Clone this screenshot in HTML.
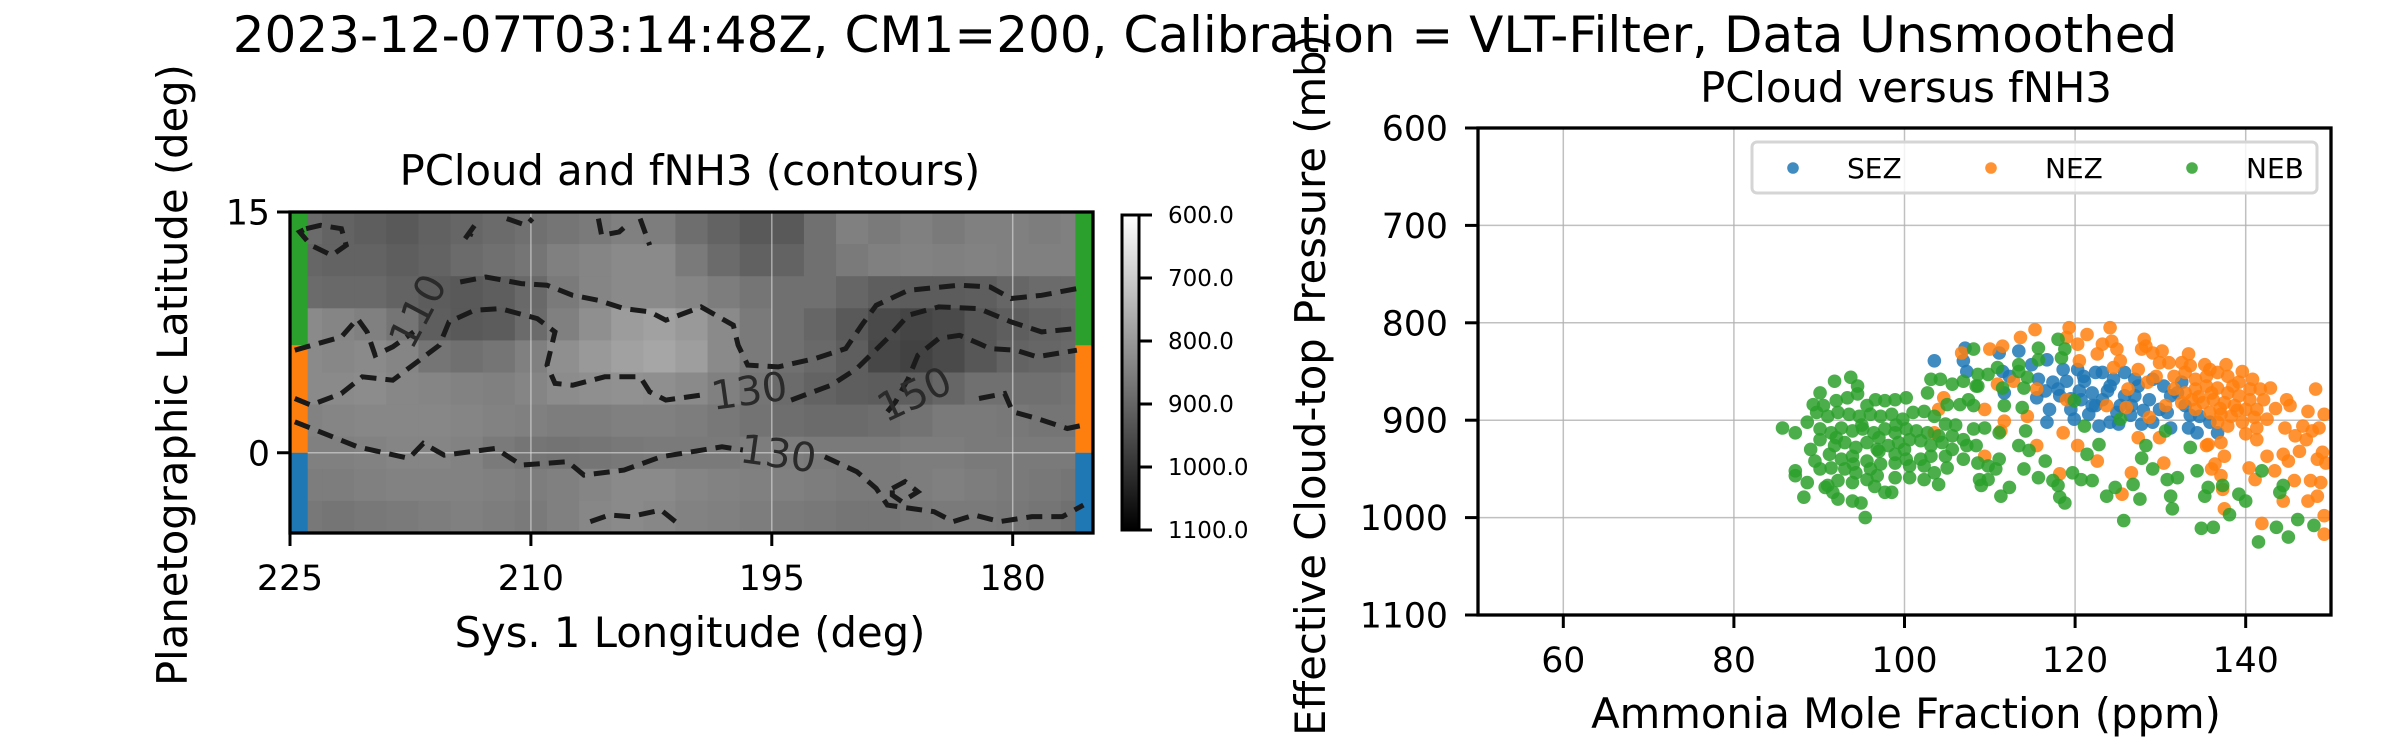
<!DOCTYPE html>
<html><head><meta charset="utf-8">
<style>
html,body{margin:0;padding:0;background:#fff;}
svg{display:block;font-family:"DejaVu Sans","Liberation Sans",sans-serif;}
</style></head>
<body>
<svg id="fig" width="2400" height="750" viewBox="0 0 2400 750" xmlns="http://www.w3.org/2000/svg">
<rect x="0" y="0" width="2400" height="750" fill="#fff"/>
<text x="1205" y="52" font-size="50" text-anchor="middle">2023-12-07T03:14:48Z, CM1=200, Calibration = VLT-Filter, Data Unsmoothed</text>
<g id="left"></g>
<g id="cbar"></g>
<g id="right"></g>
</svg>
<script>
// ---------- heatmap data (PCloud, mb) rows from lat 15 down to -5, cols lon 225 -> 175 ----------
const mapLonStart = 225, mapLonEnd = 175, mapLatTop = 15, mapLatBottom = -5;
const pcloudRows = [
[890,905,915,925,910,900,890,880,870,860,850,855,885,905,925,925,880,850,860,850,860,850,850,855,850],
[900,905,905,915,905,890,880,870,850,840,830,830,860,890,910,905,880,860,850,845,850,845,850,850,850],
[890,895,895,905,920,925,915,895,860,840,830,830,840,855,870,880,880,900,915,920,920,915,900,890,890],
[830,840,850,870,915,925,920,890,850,820,795,785,800,830,860,880,900,925,955,965,955,930,915,905,900],
[830,835,830,840,870,880,870,850,820,800,785,775,790,830,860,880,895,915,960,970,955,930,905,900,895],
[830,830,825,835,840,845,850,840,825,820,815,820,830,850,870,890,905,915,920,915,900,880,880,880,875],
[845,840,835,835,835,840,845,850,855,855,850,850,855,865,875,885,890,890,885,875,860,860,865,870,870],
[850,850,845,840,840,845,860,870,875,870,865,860,860,860,855,855,860,860,860,855,855,860,860,860,860],
[855,855,850,845,845,845,850,855,850,840,830,830,840,845,850,850,855,860,860,855,850,855,860,865,870],
[865,870,865,860,855,850,855,860,850,835,830,835,845,850,855,860,865,870,870,865,860,860,865,870,880]
];
const lonTicks = [225,210,195,180];
const latTicks = [15,0];
const bandNames = ['NEB','NEZ','SEZ'];
const bandLat0 = [6.7,0,-5];
const bandLat1 = [15,6.7,0];
const bandColors = ['#2ca02c','#ff7f0e','#1f77b4'];
// contour lines [lon, lat]
const contourB1 = [[224.7,3.38],[223.7,2.97],[221.8,3.69],[220.5,4.73],[218.6,4.52],[215.7,6.7],[215.1,8.15],[213.5,8.88],[211.9,8.98],[209.6,8.36],[208.5,7.53],[209.0,5.46],[208.5,4.32],[207.4,4.21],[205.4,4.73],[203.2,4.73],[202.6,3.8],[201.6,3.28],[199.4,3.59]];
const contourB2 = [[193.8,3.28],[191.3,4.21],[189.7,5.25],[187.8,7.12],[186.5,8.57],[184.6,9.09],[182.1,8.98],[180.1,8.15],[178.2,7.53],[176.0,7.74]];
const contourC1 = [[224.7,6.39],[221.8,7.22],[220.8,8.36],[220.2,7.53],[219.7,6.08],[218.6,6.6],[217.3,7.53]];
const contourC2 = [[214.4,10.64],[212.8,10.95],[210.6,10.54],[209.0,10.44],[207.4,9.81],[205.8,9.5],[204.2,8.98],[202.6,8.78],[201.6,8.26],[199.4,9.09],[197.4,7.95],[197.1,6.7],[196.5,5.46],[194.6,5.35],[192.3,5.87],[190.4,6.49],[189.4,7.95],[188.5,9.19],[186.5,10.12],[183.3,10.44],[181.4,10.33],[180.1,9.61],[178.2,9.81],[176.0,10.23]];
const contourA1 = [[224.7,1.93],[220.8,0.37],[217.6,-0.35],[216.7,0.58],[215.4,-0.15],[212.2,0.27],[210.6,-0.77],[207.7,-0.56],[206.7,-1.39],[204.2,-1.08],[201.9,-0.25],[198.1,0.37],[196.8,0.17]];
const contourA2 = [[191.7,-0.25],[189.7,-1.18],[188.5,-2.22],[187.8,-3.26],[184.9,-3.67],[183.7,-4.29],[182.4,-3.88],[180.8,-4.29],[178.8,-3.98],[176.9,-3.98],[175.6,-3.26]];
const contourD = [[187.8,2.55],[187.3,3.17],[186.5,4.63],[185.9,6.08],[184.6,7.12],[183.3,7.32],[182.1,6.8],[181.4,6.49],[179.8,6.39],[178.5,5.98],[176.0,6.39]];
const contourE = [[182.1,3.38],[180.5,3.69],[180.0,2.55],[178.5,2.14],[176.6,1.51],[175.6,1.72]];
const contourLoop = [[224.0,13.96],[223.1,14.17],[221.8,13.96],[221.5,12.93],[222.4,12.3],[223.7,12.93],[224.4,13.76],[224.0,13.96]];
const contourTop1 = [[205.8,14.59],[205.6,13.55],[204.5,13.76],[203.8,14.38]];
const contourTop2 = [[203.2,14.59],[202.6,12.93]];
const contourTop3 = [[211.5,14.59],[210.3,14.17],[209.9,14.59]];
const contourTop4 = [[214.1,13.34],[213.5,14.17],[213.8,13.5]];
const contourBot = [[206.3,-4.29],[205.1,-3.88],[203.8,-3.98],[201.9,-3.57],[201.0,-4.29]];
const contourDiamond = [[187.5,-2.22],[186.7,-1.8],[185.9,-2.43],[186.9,-3.05],[187.5,-2.64],[187.5,-2.22]];
const contourLabelText = ['110','130','130','150'];
const contourLabelLon = [217.0,196.4,194.6,186.1];
const contourLabelLat = [8.8,3.8,-0.1,3.6];
const contourLabelRot = [-62,-8,8,-25];

// colorbar
const cbarMin = 600, cbarMax = 1100;
const cbarTicks = [600,700,800,900,1000,1100];

// ---------- scatter data [ppm, mb] ----------
const xTicks = [60,80,100,120,140];
const yTicks = [600,700,800,900,1000,1100];
const sezPoints = [[103.5,839],[107.1,826],[106.9,839],[107.3,850],[111.1,831],[111.5,850],[112.3,855],[111.7,872],[113.4,829],[114.9,843],[116.7,838],[115.7,858],[116.5,870],[115.5,877],[117.4,861],[117,889],[116.7,902],[118.6,848],[119,860],[118.2,875],[119.5,889],[120.3,848],[121.1,860],[122,872],[120.7,879],[122.4,885],[121.6,894],[123.2,851],[124.1,865],[123.2,879],[124.9,892],[124.1,902],[122.8,906],[125.8,851],[125.8,875],[126.6,885],[127.4,865],[127.8,904],[129.1,858],[128.7,879],[129.9,889],[129.1,902],[131.2,875],[131.2,908],[132.5,861],[132.9,885],[133.3,908],[134.3,913],[134.6,896],[135.8,902],[136.7,913],[130.8,892],[119.9,899],[125.1,904],[122.4,851],[127,858],[130.4,865],[125.3,885],[122,885],[120.5,870],[123.8,870],[126.5,895],[128,890],[121,855],[124.5,858],[118,868],[119.5,878],[127,875],[133.5,895],[132,872]];
const nezPoints = [[106.7,831],[110,827],[111.5,824],[113.6,815],[115.3,807],[119.3,805],[119,815],[120.3,822],[121.4,812],[124.1,805],[124.3,819],[123.2,822],[124.9,827],[122.6,832],[120.5,839],[128.1,817],[127.8,827],[129.1,831],[130.2,829],[131,841],[133.3,832],[132.5,841],[135.2,843],[137.7,843],[139.6,850],[140.8,858],[142.9,867],[148.2,868],[144.8,879],[145.2,885],[147.3,891],[149.2,894],[148.6,908],[146.7,906],[144.6,908],[142.5,899],[141.3,908],[140,914],[137.1,923],[135.6,925],[137.5,937],[136.4,945],[136,950],[137.1,957],[130.4,944],[126.6,954],[125.5,976],[140.4,949],[141.1,961],[142.5,937],[143.4,952],[144.4,935],[145,942],[145.8,916],[146.3,932],[147.1,920],[147.8,911],[148.4,940],[149,933],[149.4,944],[145.7,962],[147.6,962],[148.8,964],[148.4,978],[147.3,983],[144.4,983],[137.5,991],[141.9,1006],[149.2,998],[149.2,1017],[137.3,971],[141.3,920],[127.4,918],[129.9,918],[135.4,926],[120.3,926],[122.6,942],[115.5,926],[118.2,955],[118.6,913],[111.7,901],[111.3,911],[114.4,896],[104.6,877],[104,889],[103.5,913],[109.4,937],[109.4,889],[112.8,860],[115.5,868],[110.9,863],[119,879],[123.7,885],[126,887],[126.2,868],[128.5,861],[130.6,885],[128.7,897],[131.6,855],[132.9,851],[134.1,858],[135.4,855],[136.7,851],[137.9,855],[139.2,861],[140.5,868],[131.6,868],[132.9,872],[134.1,868],[135.4,865],[136.7,867],[137.9,872],[139.2,875],[140.5,879],[141.7,868],[132.5,882],[133.7,879],[135,882],[136.2,879],[137.5,882],[138.7,885],[140,889],[134.1,889],[135.8,892],[137.1,894],[138.3,896],[136.7,902],[137.9,906],[139.6,902],[141.3,889],[142.1,879],[129.5,855],[129.9,841],[128.3,824],[127.4,848],[124.5,846],[125.3,839],[133.5,844],[135.8,848],[138.5,865],[136,872],[134.5,876],[139,890],[137,888],[141,897],[143.5,888]];
const nebPoints = [[91.8,860],[93.7,856],[94.5,865],[90.1,872],[94.5,873],[89.3,884],[90.5,885],[92,880],[93.3,877],[95.6,885],[96.6,879],[97.7,880],[98.9,879],[100.2,877],[102.7,872],[103.1,858],[104.2,858],[105.6,863],[106.9,860],[107.5,879],[108.6,865],[108.1,885],[106.5,884],[105,884],[85.7,908],[87.2,913],[88.6,902],[89.7,892],[91,896],[92.2,892],[93.5,894],[94.7,896],[96,894],[97.2,896],[98.5,894],[99.8,899],[101,892],[102.3,891],[103.5,896],[104.8,904],[90.1,909],[91.4,913],[92.6,908],[93.9,911],[95.1,909],[96.4,913],[97.7,909],[98.9,913],[100.2,909],[101.4,911],[102.7,913],[104,916],[105.6,916],[106.9,920],[108.1,909],[109.4,908],[90.1,920],[91.8,926],[93,923],[94.3,928],[95.6,923],[96.8,930],[98.1,926],[99.3,923],[100.6,920],[101.9,921],[103.1,926],[104.4,923],[105.6,930],[107.3,926],[108.4,926],[91.2,935],[92.6,940],[93.9,937],[95.6,942],[97,932],[98.9,935],[100.2,940],[101.9,940],[103.1,937],[104.8,937],[102.3,947],[100.6,947],[98.9,944],[97.2,945],[96,950],[94.3,954],[93,950],[91.4,949],[90.1,950],[87.2,952],[87.2,957],[88.6,964],[91,967],[92.2,962],[93.9,964],[95.6,961],[96.8,957],[98.9,959],[100.6,959],[102.3,961],[104,966],[103.5,954],[105,949],[106.9,940],[108.6,944],[109.8,947],[111.1,940],[110.7,950],[108.8,961],[109.8,961],[109,967],[97.7,974],[98.5,974],[93.9,983],[94.9,985],[92.2,981],[88.2,979],[90.7,969],[95.4,1000],[91.6,974],[111.3,978],[112.3,969],[113.4,926],[114.6,931],[114,950],[116.5,942],[115.7,959],[117.4,962],[118,967],[118.2,979],[118.8,985],[119.7,954],[120.7,961],[122,962],[121.4,935],[122.8,925],[123.7,978],[124.7,969],[126.8,966],[127.6,981],[129.1,950],[130.8,961],[132,959],[131.2,978],[131.4,991],[134.3,952],[135.6,969],[135.2,978],[137.3,967],[138.1,997],[139.2,976],[140,983],[141.9,952],[144,974],[144.4,967],[146.1,1002],[148,1008],[143.6,1010],[141.5,1025],[134.8,1011],[136.2,1010],[145,1020],[125.7,1003],[133.5,928],[128.3,926],[130.6,911],[127.8,939],[125.3,899],[121.1,906],[119.9,880],[114.2,911],[111.1,913],[111.7,885],[113.8,887],[111.5,867],[108.4,865],[108.6,853],[109.8,853],[110.9,846],[113.4,843],[113.4,850],[114.4,856],[115.7,826],[115.7,838],[118,817],[118.8,827],[118.4,836],[108.1,827],[114,867],[95,905],[97,918],[99,905],[92,918],[89,930],[94,945],[100,930],[96.5,968],[89.5,942],[106,905]];

const NS='http://www.w3.org/2000/svg';
function mk(tag, attrs, parent){const e=document.createElementNS(NS,tag);for(const k in attrs)e.setAttribute(k,attrs[k]);parent.appendChild(e);return e;}

// ---------- left panel ----------
const L = document.getElementById('left');
const LX0=290, LX1=1093, LY0=212, LY1=533;
const lx = v => LX0 + (mapLonStart - v)/(mapLonStart - mapLonEnd)*(LX1-LX0);
const ly = v => LY0 + (mapLatTop - v)/(mapLatTop - mapLatBottom)*(LY1-LY0);
const pgray = p => { let t=(cbarMax-p)/(cbarMax-cbarMin); t=Math.max(0,Math.min(1,t)); const g=Math.round(t*255); return 'rgb('+g+','+g+','+g+')'; };
const nR = pcloudRows.length, nC = pcloudRows[0].length;
const dLon = (mapLonStart-mapLonEnd)/nC, dLat=(mapLatTop-mapLatBottom)/nR;
const heat = mk('g',{},L);


for(let r=0;r<nR;r++){for(let c=0;c<nC;c++){
  const x0=lx(mapLonStart-c*dLon), x1=lx(mapLonStart-(c+1)*dLon);
  const y0=ly(mapLatTop-r*dLat), y1=ly(mapLatTop-(r+1)*dLat);
  const cell=mk('rect',{x:x0,y:y0,width:x1-x0+0.6,height:y1-y0+0.6,fill:pgray(pcloudRows[r][c])},heat);
  
  
}}
// grid
lonTicks.forEach(v=>{const g=mk('line',{x1:lx(v),x2:lx(v),y1:LY0,y2:LY1,stroke:'#ddd','stroke-width':1.5,'stroke-opacity':0.6},L);
  
  });
latTicks.forEach(v=>{const g=mk('line',{x1:LX0,x2:LX1,y1:ly(v),y2:ly(v),stroke:'#ddd','stroke-width':1.5,'stroke-opacity':0.6},L);
  
  });
// bands
const bandW = 1.1;
for(let i=0;i<bandNames.length;i++){
  [[mapLonStart, mapLonStart-bandW],[mapLonEnd+bandW, mapLonEnd]].forEach(pr=>{
    const b=mk('rect',{x:lx(pr[0]),y:ly(bandLat1[i]),width:lx(pr[1])-lx(pr[0]),height:ly(bandLat0[i])-ly(bandLat1[i]),fill:bandColors[i]},L);
    
    
  });
}
// contours
const contours=[contourB1,contourB2,contourC1,contourC2,contourA1,contourA2,contourD,contourE,contourLoop,contourTop1,contourTop2,contourTop3,contourTop4,contourBot,contourDiamond];
contours.forEach(cl=>{
  const d=cl.map((p,i)=>(i?'L':'M')+lx(p[0]).toFixed(1)+','+ly(p[1]).toFixed(1)).join(' ');
  const pth=mk('path',{d:d,fill:'none',stroke:'#1a1a1a','stroke-width':5,'stroke-dasharray':'16 9'},L);
  
  
});
contourLabelText.forEach((t,i)=>{
  const x=lx(contourLabelLon[i]), y=ly(contourLabelLat[i]);
  const tx=mk('text',{x:x,y:y,'font-size':40,fill:'#2a2a2a','text-anchor':'middle','dominant-baseline':'central',transform:'rotate('+contourLabelRot[i]+' '+x+' '+y+')'},L);
  tx.textContent=t;
  
  
});
// spines
const sp=mk('rect',{x:LX0,y:LY0,width:LX1-LX0,height:LY1-LY0,fill:'none',stroke:'#000','stroke-width':3.3},L);


lonTicks.forEach(v=>{
  const t=mk('line',{x1:lx(v),x2:lx(v),y1:LY1,y2:LY1+13,stroke:'#000','stroke-width':3},L);
  
  
  const tl=mk('text',{x:lx(v),y:590,'font-size':34.7,'text-anchor':'middle'},L);
  tl.textContent=v;
  
  
});
latTicks.forEach(v=>{
  const t=mk('line',{x1:LX0-13,x2:LX0,y1:ly(v),y2:ly(v),stroke:'#000','stroke-width':3},L);
  
  
  const tl=mk('text',{x:LX0-20,y:ly(v)+12.5,'font-size':34.7,'text-anchor':'end'},L);
  tl.textContent=v;
  
  
});
{
 let t=mk('text',{x:690,y:185,'font-size':41.7,'text-anchor':'middle'},L);t.textContent='PCloud and fNH3 (contours)';
 
 
 t=mk('text',{x:690,y:647,'font-size':41.7,'text-anchor':'middle'},L);t.textContent='Sys. 1 Longitude (deg)';
 
 
 t=mk('text',{x:0,y:0,'font-size':41.7,'text-anchor':'middle',transform:'translate(187,375) rotate(-90)'},L);t.textContent='Planetographic Latitude (deg)';
 
 
}

// ---------- colorbar ----------
const C=document.getElementById('cbar');
const CX0=1122, CX1=1139, CY0=215, CY1=530;
const cy = v => CY0 + (v-cbarMin)/(cbarMax-cbarMin)*(CY1-CY0);
const defs=mk('defs',{},C);
const lg=mk('linearGradient',{id:'cg',x1:0,y1:0,x2:0,y2:1},defs);
mk('stop',{offset:'0','stop-color':'#fff'},lg);
mk('stop',{offset:'1','stop-color':'#000'},lg);
{
 const r=mk('rect',{x:CX0,y:CY0,width:CX1-CX0,height:CY1-CY0,fill:'url(#cg)',stroke:'#000','stroke-width':3},C);
 
 
}
cbarTicks.forEach(v=>{
  const t=mk('line',{x1:CX1,x2:CX1+13,y1:cy(v),y2:cy(v),stroke:'#000','stroke-width':3},C);
  
  
  const tl=mk('text',{x:1168,y:cy(v)+8,'font-size':23},C);
  tl.textContent=v.toFixed(1);
  
  
});

// ---------- right panel ----------
const R=document.getElementById('right');
const RX0=1478, RX1=2331, RY0=128, RY1=615;
const sx = v => RX0 + (v-50)/100*(RX1-RX0);
const sy = v => RY0 + (v-600)/500*(RY1-RY0);
xTicks.forEach(v=>{const g=mk('line',{x1:sx(v),x2:sx(v),y1:RY0,y2:RY1,stroke:'#b0b0b0','stroke-width':1.5,'stroke-opacity':0.8},R);
  
  });
yTicks.forEach(v=>{const g=mk('line',{x1:RX0,x2:RX1,y1:sy(v),y2:sy(v),stroke:'#b0b0b0','stroke-width':1.5,'stroke-opacity':0.8},R);
  
  });
const clip=mk('clipPath',{id:'rc'},mk('defs',{},R));
mk('rect',{x:RX0,y:RY0,width:RX1-RX0,height:RY1-RY0},clip);
const series=[['sez',sezPoints,'#1f77b4'],['nez',nezPoints,'#ff7f0e'],['neb',nebPoints,'#2ca02c']];
series.forEach(s=>{
  const g=mk('g',{'clip-path':'url(#rc)'},R);
  
  
  s[1].forEach(p=>{
    const c=mk('circle',{cx:sx(p[0]),cy:sy(p[1]),r:6.8,fill:s[2],'fill-opacity':0.85},g);
    
    
  });
});
{
 const f=mk('rect',{x:RX0,y:RY0,width:RX1-RX0,height:RY1-RY0,fill:'none',stroke:'#000','stroke-width':3.3},R);
 
 
}
xTicks.forEach(v=>{
  const t=mk('line',{x1:sx(v),x2:sx(v),y1:RY1,y2:RY1+13,stroke:'#000','stroke-width':3},R);
  
  
  const tl=mk('text',{x:sx(v),y:672,'font-size':34.7,'text-anchor':'middle'},R);
  tl.textContent=v;
  
  
});
yTicks.forEach(v=>{
  const t=mk('line',{x1:RX0-13,x2:RX0,y1:sy(v),y2:sy(v),stroke:'#000','stroke-width':3},R);
  
  
  const tl=mk('text',{x:1448,y:sy(v)+12.5,'font-size':34.7,'text-anchor':'end'},R);
  tl.textContent=v;
  
  
});
// legend
const legendNames=['SEZ','NEZ','NEB'];
const legendColors=['#1f77b4','#ff7f0e','#2ca02c'];
const legendDotX=[1793,1991,2192];
const legendTextX=[1847,2045,2246];
{
 const lgG=mk('g',{},R);
 
 
 mk('rect',{x:1752,y:142,width:565,height:51,rx:5,fill:'#fff','fill-opacity':0.8,stroke:'#d5d5d5','stroke-width':3},lgG);
 legendNames.forEach((n,i)=>{
   const e=mk('g',{},lgG);
   
   
   mk('circle',{cx:legendDotX[i],cy:168,r:5.8,fill:legendColors[i],'fill-opacity':0.85},e);
   const t=mk('text',{x:legendTextX[i],y:178,'font-size':28},e);t.textContent=n;
 });
}
{
 let t=mk('text',{x:1906,y:102,'font-size':41.7,'text-anchor':'middle'},R);t.textContent='PCloud versus fNH3';
 
 
 t=mk('text',{x:1906,y:728,'font-size':41.7,'text-anchor':'middle'},R);t.textContent='Ammonia Mole Fraction (ppm)';
 
 
 t=mk('text',{x:0,y:0,'font-size':41.7,'text-anchor':'middle',transform:'translate(1325,385) rotate(-90)'},R);t.textContent='Effective Cloud-top Pressure (mb)';
 
 
}
</script>
</body></html>
